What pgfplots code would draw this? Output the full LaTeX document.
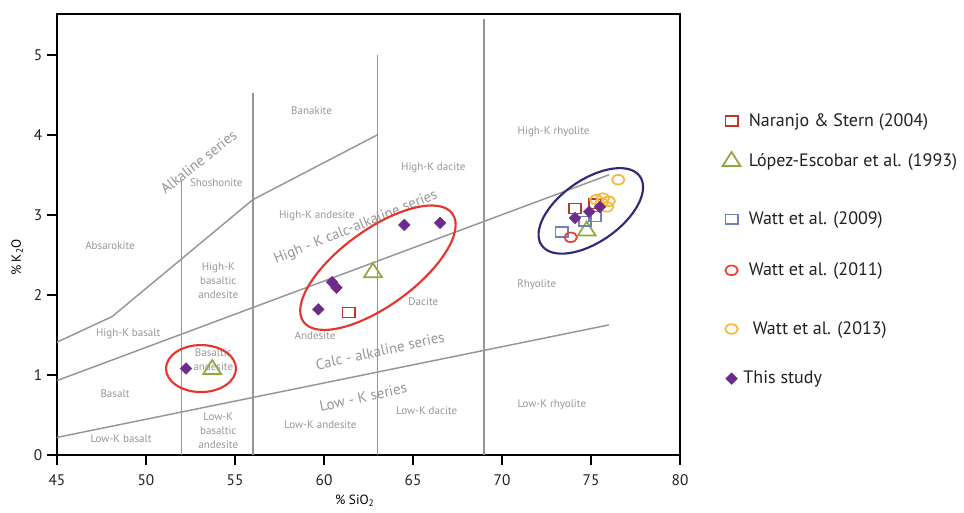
\documentclass[border=0pt]{standalone}
\usepackage{fontspec}
\setmainfont{PT Sans}
\usepackage{pgfplots}
\pgfplotsset{compat=1.18}
\usetikzlibrary{shapes.geometric}
\definecolor{textc}{RGB}{35,31,32}
\definecolor{lblc}{RGB}{150,150,155}
\definecolor{linec}{RGB}{150,150,150}
\definecolor{naranjo}{RGB}{190,55,45}
\definecolor{lopez}{RGB}{140,170,60}
\definecolor{wattnine}{RGB}{110,130,185}
\definecolor{watteleven}{RGB}{232,65,55}
\definecolor{wattthirteen}{RGB}{245,185,60}
\definecolor{thisstudy}{RGB}{108,44,140}
\definecolor{ellred}{RGB}{232,53,43}
\definecolor{ellpur}{RGB}{48,40,120}
\tikzset{
  lbl/.style={text=lblc, font=\fontsize{8.25}{10.6}\selectfont, align=center},
  ser/.style={text=lblc, font=\fontsize{11.2}{13}\selectfont},
}
\pgfplotsset{myleg/.style={legend image code/.code={\path (0pt,0pt) (17pt,0pt); \draw[##1] plot coordinates {(8.5pt,0pt)};}}}
\begin{document}
\begin{tikzpicture}
\begin{axis}[
  scale only axis, width=467.25pt, height=330.75pt,
  xmin=45, xmax=80, ymin=0, ymax=5.51,
  xtick={45,50,...,80}, ytick={0,1,...,5},
  tick align=outside, xtick pos=bottom, ytick pos=left,
  major tick length=7.5pt,
  tick style={black, line width=1.3pt},
  axis line style={line width=1pt, black},
  tick label style={font=\fontsize{11.5}{13}\selectfont, text=textc},
  xticklabel style={yshift=-4pt},
  /pgf/number format/assume math mode=true,
  xlabel={\% SiO\textsubscript{2}}, ylabel={\% K\textsubscript{2}O},
  label style={font=\fontsize{12.5}{14}\selectfont, text=textc},
  every axis x label/.style={at={(rel axis cs:0.478,-0.104)}, anchor=center},
  every axis y label/.style={at={(rel axis cs:-0.064,0.448)}, anchor=center, rotate=90},
  clip=false,
  legend cell align=left,
  legend style={at={(rel axis cs:1.0637,0.779)}, anchor=north west, draw=none, fill=none,
    inner xsep=0pt, inner ysep=0pt, row sep=0pt, column sep=4.25pt,
    font=\fontsize{13.5}{15}\selectfont, text=textc, nodes={inner sep=0pt}},
]
% boundary lines
\addplot[linec, line width=1.1pt, forget plot] coordinates {(45,1.41) (48.1,1.73) (56,3.19) (63,4.0)};
\addplot[linec, line width=1.1pt, forget plot] coordinates {(45,0.93) (76,3.5)};
\addplot[linec, line width=1.1pt, forget plot] coordinates {(45,0.22) (76,1.625)};
\addplot[linec, line width=1.1pt, forget plot] coordinates {(52,0) (52,3.44)};
\addplot[linec, line width=1.1pt, forget plot] coordinates {(56,0) (56,4.52)};
\addplot[linec, line width=1.1pt, forget plot] coordinates {(63,0) (63,5.0)};
\addplot[linec, line width=1.1pt, forget plot] coordinates {(69,0) (69,5.45)};
% field labels
\node[ser, rotate=38.5] at (axis cs:52.95,3.66) {Alkaline series};
\node[lbl] at (axis cs:53.95,3.40) {Shoshonite};
\node[lbl] at (axis cs:59.3,4.30) {Banakite};
\node[lbl] at (axis cs:59.6,2.99) {High-K andesite};
\node[ser, rotate=22, font=\fontsize{11}{13}\selectfont] at (axis cs:61.79,2.84) {High - K calc-alkaline series};
\node[lbl] at (axis cs:66.14,3.59) {High-K dacite};
\node[lbl] at (axis cs:72.9,4.04) {High-K rhyolite};
\node[lbl] at (axis cs:47.98,2.61) {Absarokite};
\node[lbl] at (axis cs:54.06,2.175) {High-K\\basaltic\\andesite};
\node[lbl] at (axis cs:65.58,1.92) {Dacite};
\node[lbl] at (axis cs:71.95,2.125) {Rhyolite};
\node[lbl] at (axis cs:49.0,1.52) {High-K basalt};
\node[lbl] at (axis cs:59.5,1.49) {Andesite};
\node[ser, rotate=12.5] at (axis cs:63.15,1.30) {Calc - alkaline series};
\node[lbl] at (axis cs:53.78,1.19) {Basaltic\\andesite};
\node[lbl] at (axis cs:48.26,0.77) {Basalt};
\node[ser, rotate=12.5] at (axis cs:62.2,0.725) {Low - K series};
\node[lbl] at (axis cs:65.77,0.56) {Low-K dacite};
\node[lbl] at (axis cs:72.8,0.625) {Low-K rhyolite};
\node[lbl] at (axis cs:54.06,0.305) {Low-K\\basaltic\\andesite};
\node[lbl] at (axis cs:59.8,0.375) {Low-K andesite};
\node[lbl] at (axis cs:48.6,0.20) {Low-K basalt};
% data
\addplot[only marks, mark=square, mark size=3.7pt, mark options={xscale=1.25, draw=naranjo, line width=1.3pt}, myleg]
  coordinates {(61.39,1.78) (74.1,3.08) (75.22,3.14)};
\addlegendentry[text height=10.8pt, text depth=3.2pt]{Naranjo \& Stern (2004)}
\addplot[only marks, mark=triangle, mark size=7pt, mark options={xscale=1.1, draw=lopez, line width=1.3pt}, myleg]
  coordinates {(53.72,1.07) (62.75,2.28) (74.76,2.80)};
\addlegendentry[text height=27pt, text depth=19.4pt]{López-Escobar et al. (1993)}
\addplot[only marks, mark=square, mark size=3.7pt, mark options={xscale=1.25, draw=wattnine, line width=1.3pt}, myleg]
  coordinates {(73.35,2.79) (74.66,2.92) (75.22,2.98)};
\addlegendentry[text height=24.1pt, text depth=16.5pt]{Watt et al. (2009)}
\addplot[only marks, mark=o, mark size=3.6pt, mark options={xscale=1.3, draw=watteleven, line width=1.3pt}, myleg]
  coordinates {(73.86,2.72)};
\addlegendentry[text height=21.75pt, text depth=14.15pt]{Watt et al. (2011)}
\addplot[only marks, mark=o, mark size=3.6pt, mark options={xscale=1.3, draw=wattthirteen, line width=1.3pt}, myleg]
  coordinates {(76.53,3.44) (75.3,3.19) (75.6,3.15) (75.9,3.10) (75.67,3.21) (76.0,3.17)};
\addlegendentry[text height=29.85pt, text depth=22.25pt]{\hspace{3pt}Watt et al. (2013)}
\addplot[only marks, mark=square*, mark size=3.1pt, mark options={rotate=45, fill=thisstudy, draw=thisstudy, line width=0.3pt}, myleg]
  coordinates {(52.25,1.08) (59.68,1.82) (60.45,2.16) (60.7,2.09) (64.51,2.875) (66.52,2.90) (74.1,2.96) (74.9,3.04) (75.5,3.10)};
\addlegendentry[text height=14.95pt, text depth=7.35pt]{\hspace{-4pt}This study}
% groups
\node[draw=ellred, line width=1.6pt, ellipse, inner sep=0pt, minimum width=52.5pt, minimum height=35.25pt] at (axis cs:53.09,1.08) {};
\node[draw=ellred, line width=1.6pt, ellipse, inner sep=0pt, minimum width=138pt, minimum height=57pt, rotate=36] at (axis cs:63.03,2.34) {};
\node[draw=ellpur, line width=1.6pt, ellipse, inner sep=0pt, minimum width=90pt, minimum height=46.5pt, rotate=35] at (axis cs:74.99,3.05) {};
\end{axis}
\pgfresetboundingbox
\path[use as bounding box] (-42.75pt,-42.75pt) rectangle (680.25pt,341.25pt);
\end{tikzpicture}
\end{document}
